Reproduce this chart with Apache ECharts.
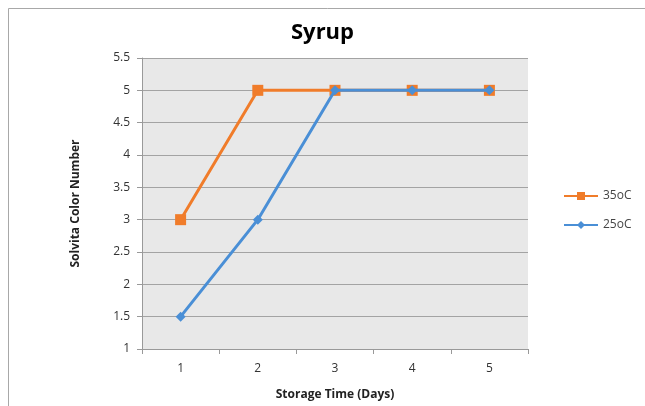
<!DOCTYPE html>
<html><head><meta charset="utf-8">
<script src="https://cdn.jsdelivr.net/npm/echarts@6/dist/echarts.min.js"></script>
<style>html,body{margin:0;padding:0;background:#fff}#c{width:645px;height:406px}</style>
</head><body><div id="c"></div>
<script>
const categories = ['1','2','3','4','5'];
const s35 = [3,5,5,5,5];
const s25 = [1.5,3,5,5,5];
const seriesNames = ['35oC','25oC'];
const font = '"Open Sans", "Liberation Sans", sans-serif';
const chart = echarts.init(document.getElementById('c'));
chart.setOption({
  animation:false,
  backgroundColor:'#fff',
  title:{text:'Syrup',left:'center',top:17,textStyle:{fontFamily:font,fontSize:22,fontWeight:'bold',color:'#000'}},
  graphic:[{type:'rect',shape:{x:8.5,y:8.5,width:700,height:500},style:{fill:'none',stroke:'#a8a8a8',lineWidth:1},silent:true}],
  legend:{orient:'vertical',left:558,top:185,itemGap:17,itemWidth:34,itemHeight:10,
    textStyle:{fontFamily:font,fontSize:12,color:'#444'},
    data:[{name:'35oC'},{name:'25oC'}]},
  grid:{left:142,right:117,top:58,bottom:56,show:true,backgroundColor:'#e8e8e8',borderWidth:0},
  xAxis:{type:'category',data:categories,boundaryGap:true,
    name:'Storage Time (Days)',nameLocation:'middle',nameGap:40,
    nameTextStyle:{fontFamily:font,fontSize:12,fontWeight:'bold',color:'#222'},
    axisLine:{lineStyle:{color:'#999'}},axisTick:{show:true,length:5,lineStyle:{color:'#999'}},
    axisLabel:{fontFamily:font,fontSize:12,color:'#333',margin:14}},
  yAxis:{type:'value',min:1,max:5.5,interval:0.5,
    name:'Solvita Color Number',nameLocation:'middle',nameGap:60,
    nameTextStyle:{fontFamily:font,fontSize:12,fontWeight:'bold',color:'#222'},
    axisLine:{show:true,lineStyle:{color:'#999'}},axisTick:{show:true,length:5,inside:false,lineStyle:{color:'#999'}},
    axisLabel:{fontFamily:font,fontSize:12,color:'#333',margin:12},
    splitLine:{lineStyle:{color:'#a3a3a3',width:1}}},
  series:[
    {name:seriesNames[0],type:'line',data:s35,symbol:'rect',symbolSize:11,
     lineStyle:{color:'#f07c2a',width:3},itemStyle:{color:'#f07c2a'},z:2},
    {name:seriesNames[1],type:'line',data:s25,symbol:'diamond',symbolSize:10,
     lineStyle:{color:'#4a8fd6',width:3},itemStyle:{color:'#4a8fd6'},z:3}
  ]
});
</script></body></html>
